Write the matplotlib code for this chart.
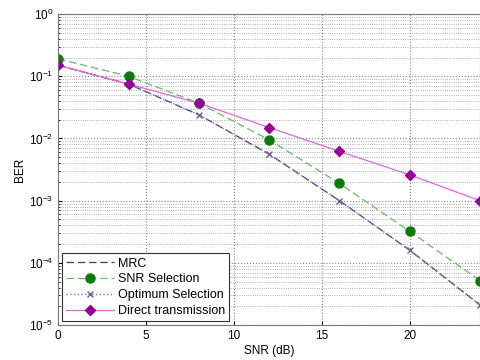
import numpy as np
import matplotlib.pyplot as plt
from matplotlib.ticker import LogLocator, NullFormatter

plt.rcParams['font.family'] = ['Liberation Sans', 'DejaVu Sans']

snr = [0, 4, 8, 12, 16, 20, 24]
ber_mrc = [0.15, 0.075, 0.024, 0.0056, 0.001, 1.6e-4, 2.1e-5]
ber_opt = [0.15, 0.075, 0.024, 0.0056, 0.001, 1.6e-4, 2.1e-5]
ber_snr = [0.19, 0.1, 0.037, 0.0095, 0.0019, 3.2e-4, 5.2e-5]
ber_direct = [0.15, 0.075, 0.037, 0.015, 0.0062, 0.0026, 0.001]

fig = plt.figure(figsize=(4.81, 3.6), dpi=100)
ax = fig.add_axes([0.121, 0.097, 0.877, 0.864])

ax.semilogy(snr, ber_mrc, '--', color='#444455', lw=0.9, dashes=(6, 3), label='MRC')
ax.semilogy(snr, ber_snr, '--', color='#66bb66', lw=0.9, dashes=(6, 3),
            marker='o', ms=6.5, mfc='#0a7a0a', mec='#0a7a0a', label='SNR Selection')
ax.semilogy(snr, ber_opt, ':', color='#7777dd', lw=1.0,
            marker='x', ms=4, mec='#666688', label='Optimum Selection')
ax.semilogy(snr, ber_direct, '-', color='#dd66dd', lw=0.9,
            marker='D', ms=5, mfc='#990099', mec='#990099', label='Direct transmission')

ax.set_xlim(0, 24)
ax.set_ylim(1e-5, 1)
ax.set_xticks([0, 5, 10, 15, 20])
ax.yaxis.set_major_locator(LogLocator(base=10, numticks=10))
ax.yaxis.set_minor_locator(LogLocator(base=10, subs=np.arange(2, 10), numticks=10))
ax.yaxis.set_minor_formatter(NullFormatter())
ax.grid(True, which='major', ls=':', color='#888888', lw=0.8)
ax.grid(True, which='minor', ls=':', color='#999999', lw=0.6)
ax.tick_params(labelsize=8.5, direction='in', length=3)
ax.tick_params(which='minor', length=1.5, direction='in')
for s in ax.spines.values():
    s.set_color('#777777')

ax.set_xlabel('SNR (dB)', fontsize=8.5, labelpad=2)
ax.set_ylabel('BER', fontsize=8.5, labelpad=2)

leg = ax.legend(loc='lower left', fontsize=9, frameon=True, fancybox=False,
                borderpad=0.35, labelspacing=0.3, handlelength=3.8,
                handletextpad=0.3, borderaxespad=0.3)
leg.get_frame().set_edgecolor('#333333')
leg.get_frame().set_linewidth(0.8)
leg.get_frame().set_alpha(1)

fig.savefig('out.png', dpi=100)
